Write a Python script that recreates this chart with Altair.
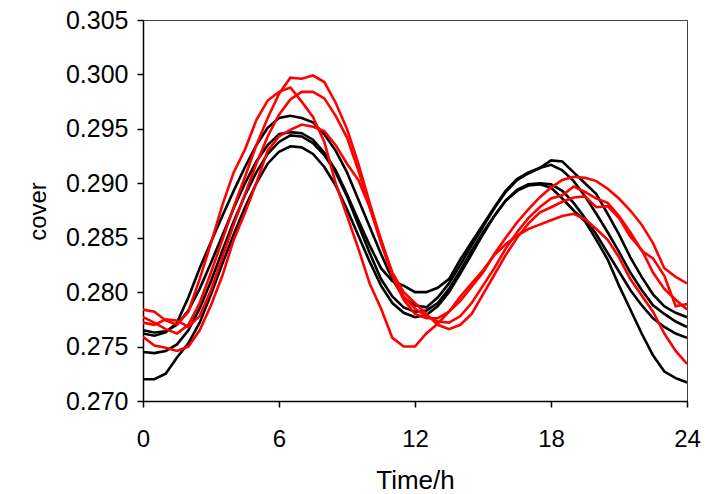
import altair as alt
import pandas as pd

hours = [0, 0.5, 1, 1.5, 2, 2.5, 3, 3.5, 4, 4.5, 5, 5.5, 6, 6.5, 7, 7.5, 8, 8.5,
         9, 9.5, 10, 10.5, 11, 11.5, 12, 12.5, 13, 13.5, 14, 14.5, 15, 15.5, 16,
         16.5, 17, 17.5, 18, 18.5, 19, 19.5, 20, 20.5, 21, 21.5, 22, 22.5, 23,
         23.5, 24]

black_1 = [0.2762, 0.2760, 0.2763, 0.2772, 0.2795, 0.2822, 0.2846, 0.2870, 0.2893,
           0.2915, 0.2935, 0.2951, 0.2960, 0.2962, 0.2960, 0.2956, 0.2945, 0.2930,
           0.2910, 0.2885, 0.2860, 0.2835, 0.2812, 0.2795, 0.2788, 0.2786, 0.2795,
           0.2808, 0.2825, 0.2843, 0.2860, 0.2877, 0.2892, 0.2903, 0.2909, 0.2914,
           0.2917, 0.2912, 0.2902, 0.2888, 0.2872, 0.2855, 0.2837, 0.2818, 0.2802,
           0.2788, 0.2780, 0.2773, 0.2768]
black_2 = [0.2765, 0.2763, 0.2764, 0.2770, 0.2783, 0.2803, 0.2827, 0.2852, 0.2877,
           0.2900, 0.2920, 0.2935, 0.2945, 0.2947, 0.2946, 0.2940, 0.2928, 0.2912,
           0.2890, 0.2866, 0.2843, 0.2822, 0.2810, 0.2806, 0.2800, 0.2800, 0.2804,
           0.2812, 0.2830, 0.2846, 0.2862, 0.2878, 0.2893, 0.2904, 0.2910, 0.2914,
           0.2921, 0.2920, 0.2910, 0.2900, 0.2890, 0.2872, 0.2853, 0.2832, 0.2814,
           0.2798, 0.2787, 0.2781, 0.2777]
black_3 = [0.2745, 0.2744, 0.2746, 0.2752, 0.2765, 0.2785, 0.2810, 0.2838, 0.2865,
           0.2889, 0.2910, 0.2927, 0.2938, 0.2944, 0.2943, 0.2937, 0.2926, 0.2910,
           0.2888, 0.2862, 0.2836, 0.2812, 0.2796, 0.2786, 0.2782, 0.2783, 0.2790,
           0.2803, 0.2820, 0.2838, 0.2855, 0.2870, 0.2884, 0.2894, 0.2899, 0.2900,
           0.2899, 0.2893, 0.2882, 0.2868, 0.2853, 0.2836, 0.2819, 0.2802, 0.2788,
           0.2776, 0.2768, 0.2762, 0.2758]
black_4 = [0.2720, 0.2720, 0.2725, 0.2740, 0.2753, 0.2772, 0.2798, 0.2826, 0.2853,
           0.2878, 0.2900, 0.2918, 0.2929, 0.2934, 0.2933, 0.2927, 0.2915, 0.2898,
           0.2876, 0.2852, 0.2828, 0.2806, 0.2790, 0.2781, 0.2777, 0.2779, 0.2787,
           0.2800, 0.2817, 0.2835, 0.2853, 0.2870, 0.2884, 0.2893, 0.2898, 0.2899,
           0.2896, 0.2886, 0.2875, 0.2865, 0.2848, 0.2830, 0.2806, 0.2784, 0.2762,
           0.2742, 0.2727, 0.2721, 0.2717]

red_1 = [0.2784, 0.2782, 0.2774, 0.2770, 0.2782, 0.2812, 0.2845, 0.2880, 0.2910,
         0.2931, 0.2958, 0.2976, 0.2984, 0.2988, 0.2975, 0.2961, 0.2938, 0.2900,
         0.2870, 0.2840, 0.2808, 0.2785, 0.2758, 0.2750, 0.2750, 0.2762, 0.2771,
         0.2782, 0.2796, 0.2808, 0.2820, 0.2834, 0.2844, 0.2852, 0.2858, 0.2862,
         0.2866, 0.2870, 0.2872, 0.2867, 0.2858, 0.2848, 0.2832, 0.2812, 0.2797,
         0.2782, 0.2762, 0.2746, 0.2734]
red_2 = [0.2777, 0.2772, 0.2766, 0.2762, 0.2770, 0.2790, 0.2818, 0.2848, 0.2878,
         0.2906, 0.2935, 0.2960, 0.2982, 0.2997, 0.2996, 0.2999, 0.2993, 0.2974,
         0.2950, 0.2918, 0.2882, 0.2848, 0.2815, 0.2793, 0.2780, 0.2776, 0.2776,
         0.2782, 0.2792, 0.2805, 0.2818, 0.2835, 0.2850, 0.2864, 0.2876, 0.2887,
         0.2896, 0.2903, 0.2906, 0.2905, 0.2902, 0.2895, 0.2886, 0.2875, 0.2862,
         0.2845, 0.2822, 0.2814, 0.2808]
red_3 = [0.2772, 0.2770, 0.2775, 0.2774, 0.2768, 0.2778, 0.2802, 0.2832, 0.2862,
         0.2890, 0.2918, 0.2943, 0.2963, 0.2977, 0.2984, 0.2984, 0.2978, 0.2962,
         0.2942, 0.2912, 0.2878, 0.2845, 0.2815, 0.2796, 0.2785, 0.2778, 0.2773,
         0.2772, 0.2778, 0.2790, 0.2806, 0.2822, 0.2840, 0.2855, 0.2868, 0.2878,
         0.2886, 0.2889, 0.2897, 0.2892, 0.2886, 0.2882, 0.2870, 0.2855, 0.2838,
         0.2831, 0.2815, 0.2787, 0.2789]
red_4 = [0.2759, 0.2751, 0.2749, 0.2746, 0.2750, 0.2765, 0.2788, 0.2815, 0.2848,
         0.2873, 0.2900, 0.2930, 0.2943, 0.2949, 0.2954, 0.2952, 0.2948, 0.2935,
         0.2918, 0.2903, 0.2878, 0.2848, 0.2818, 0.2800, 0.2790, 0.2780, 0.2770,
         0.2766, 0.2770, 0.2780, 0.2798, 0.2816, 0.2834, 0.2850, 0.2863, 0.2873,
         0.2878, 0.2883, 0.2887, 0.2888, 0.2878, 0.2879, 0.2868, 0.2851, 0.2839,
         0.2818, 0.2803, 0.2793, 0.2784]

x_ticks = [0, 6, 12, 18, 24]
y_ticks = [0.270, 0.275, 0.280, 0.285, 0.290, 0.295, 0.300, 0.305]

series = [
    ("black_1", black_1, "black"), ("black_2", black_2, "black"),
    ("black_3", black_3, "black"), ("black_4", black_4, "black"),
    ("red_1", red_1, "red"), ("red_2", red_2, "red"),
    ("red_3", red_3, "red"), ("red_4", red_4, "red"),
]
rows = []
for name, vals, grp in series:
    for h, v in zip(hours, vals):
        rows.append({"hour": h, "cover": v, "series": name, "group": grp})
df = pd.DataFrame(rows)

FONT = "Liberation Sans"

x_enc = alt.X(
    "hour:Q",
    scale=alt.Scale(domain=[0, 24], nice=False),
    axis=alt.Axis(values=x_ticks, title="Time/h", labelPadding=20, labelFlush=False,
                  labelFontSize=24, titleFontSize=26,
                  titleBaseline="alphabetic", titleY=87, format="d"),
)
y_enc = alt.Y(
    "cover:Q",
    scale=alt.Scale(domain=[0.270, 0.305], nice=False, zero=False),
    axis=alt.Axis(values=y_ticks, format=".3f", title="cover", labelPadding=9,
                  labelFontSize=25, titleFontSize=24, labelFlush=False,
                  titleAngle=270, titleBaseline="alphabetic", titleAlign="center",
                  titleX=-98, titleY=191),
)

black = alt.Chart(df).transform_filter(alt.datum.group == "black").mark_line(
    color="#000000", strokeWidth=2.6, clip=True
).encode(x=x_enc, y=y_enc, detail="series:N")

red = alt.Chart(df).transform_filter(alt.datum.group == "red").mark_line(
    color="#ff0000", strokeWidth=2.6, clip=True
).encode(x=x_enc, y=y_enc, detail="series:N")

chart = alt.layer(black, red).properties(
    width=544, height=381,
    autosize=alt.AutoSizeParams(type="none"),
    padding={"left": 143, "top": 20, "right": 24, "bottom": 93},
    background="white",
).configure_view(
    stroke="#444444", strokeWidth=1
).configure_axis(
    grid=False,
    domainColor="#000000", domainWidth=1.5,
    tickColor="#000000", tickWidth=1.5, tickSize=6,
    labelFont=FONT, labelColor="#000000",
    titleFont=FONT, titleColor="#000000", titleFontWeight="normal",
)

chart.save("out.html", embed_options={"renderer": "svg", "actions": False})
